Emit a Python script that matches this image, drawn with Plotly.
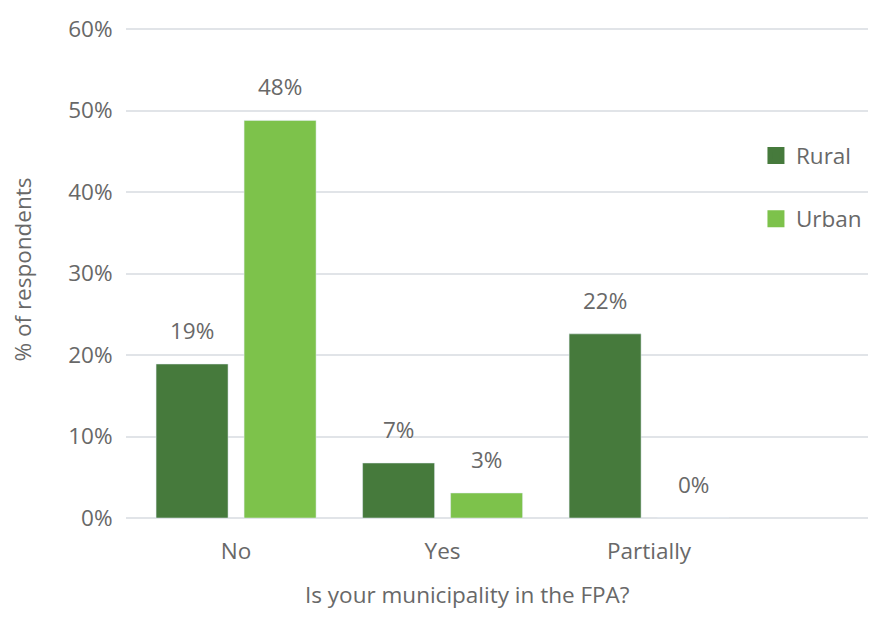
import plotly.graph_objects as go

categories = ["No", "Yes", "Partially"]
rural = [18.9, 6.75, 22.6]
urban = [48.8, 3.07, 0.0]
rural_labels = ["19%", "7%", "22%"]
urban_labels = ["48%", "3%", "0%"]
y_ticks = [0, 10, 20, 30, 40, 50, 60]
y_tick_labels = ["0%", "10%", "20%", "30%", "40%", "50%", "60%"]

FONT = "Open Sans, Noto Sans, sans-serif"
GRAY = "#686868"
FS = 22.5
RURAL_C = "#467a3c"
URBAN_C = "#7dc24b"

fig = go.Figure()
# real bars
fig.add_trace(go.Bar(name="Rural", x=categories, y=rural, marker_color=RURAL_C,
                     offsetgroup="r", showlegend=False))
fig.add_trace(go.Bar(name="Urban", x=categories, y=urban, marker_color=URBAN_C,
                     offsetgroup="u", showlegend=False))
# legend-only entries (bigger swatches)
fig.add_trace(go.Bar(name="Rural", x=[None], y=[None], offsetgroup="r",
                     marker=dict(color=RURAL_C, line=dict(color=RURAL_C, width=5)),
                     legendgroup="r"))
fig.add_trace(go.Bar(name="Urban", x=[None], y=[None], offsetgroup="u",
                     marker=dict(color=URBAN_C, line=dict(color=URBAN_C, width=5)),
                     legendgroup="u"))

SLOT = 88  # pixel width of one bar slot
annotations = []
for series, labels, shift in ((rural, rural_labels, -SLOT / 2), (urban, urban_labels, SLOT / 2)):
    for cat, val, lab in zip(categories, series, labels):
        annotations.append(dict(
            x=cat, y=val, xref="x", yref="y", text=lab, showarrow=False,
            xanchor="center", yanchor="bottom", xshift=shift, yshift=16,
            font=dict(size=FS, color=GRAY, family=FONT),
        ))
annotations.append(dict(
    text="Is your municipality in the FPA?", xref="paper", yref="paper",
    x=0.46, y=0, yshift=-76, xanchor="center", yanchor="middle",
    showarrow=False, font=dict(size=FS, color=GRAY, family=FONT),
))

fig.update_layout(
    width=873, height=618,
    margin=dict(l=126, r=5, t=21, b=100),
    paper_bgcolor="white", plot_bgcolor="white",
    font=dict(family=FONT, size=FS, color=GRAY),
    barmode="group", bargap=0.1477, bargroupgap=0.182,
    showlegend=True,
    legend=dict(x=0.849, y=0.772, xanchor="left", yanchor="top",
                font=dict(size=FS, color=GRAY, family=FONT),
                tracegroupgap=31, bgcolor="rgba(0,0,0,0)"),
    xaxis=dict(
        type="category", range=[-0.533, 3.06],
        showgrid=False, showline=False, zeroline=False,
        ticks="outside", ticklen=13, tickcolor="rgba(0,0,0,0)",
        tickfont=dict(size=FS, color=GRAY, family=FONT),
    ),
    yaxis=dict(
        range=[0, 61], tickvals=y_ticks, ticktext=y_tick_labels,
        showgrid=True, gridcolor="#e1e4e8", gridwidth=2,
        zeroline=True, zerolinecolor="#e1e4e8", zerolinewidth=2,
        showline=False,
        ticks="outside", ticklen=8, tickcolor="rgba(0,0,0,0)",
        tickfont=dict(size=FS, color=GRAY, family=FONT),
        title=dict(text="% of respondents", standoff=30,
                   font=dict(size=FS, color=GRAY, family=FONT)),
    ),
    annotations=annotations,
)

fig.write_html("out.html")
